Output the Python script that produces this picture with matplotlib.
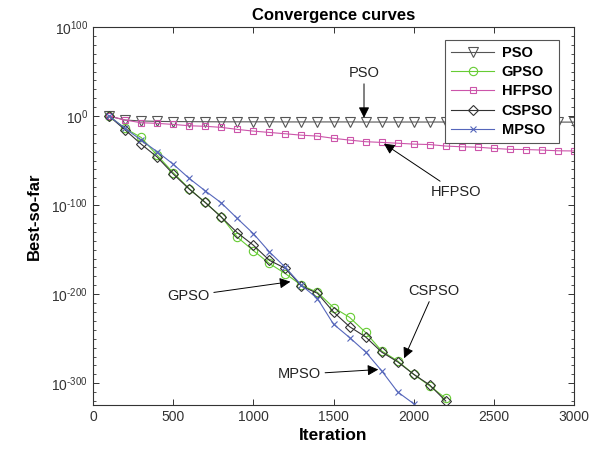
import matplotlib
matplotlib.use("Agg")
import matplotlib.pyplot as plt
from matplotlib.ticker import FixedLocator, MultipleLocator, FuncFormatter

plt.rcParams['font.family'] = ['Liberation Sans', 'DejaVu Sans']
plt.rcParams['mathtext.fontset'] = 'custom'
plt.rcParams['mathtext.rm'] = 'Liberation Sans'
plt.rcParams['mathtext.it'] = 'Liberation Sans:italic'
plt.rcParams['mathtext.bf'] = 'Liberation Sans:bold'

# iteration 100, 200, ... 3000
iters = list(range(100, 3100, 100))

# best-so-far values as log10 (the axis shows 10^x)
pso = [0, -4.5, -5.5, -6.0, -6.2, -6.3, -6.4, -6.5, -6.5, -6.5,
       -6.5, -6.6, -6.6, -6.6, -6.6, -6.6, -6.7, -6.7, -6.7, -6.7,
       -6.7, -6.7, -6.8, -6.8, -6.8, -6.8, -6.8, -6.8, -6.8, -6.8]
gpso = [0, -13.8, -24, -44, -63.5, -81.5, -97, -113, -136, -151,
        -165.5, -177, -190, -198, -215, -226, -243, -263.7, -275, -290,
        -303, -317]
hfpso = [0, -4.5, -7.5, -8.2, -9.4, -10.9, -11.5, -12.7, -15.0, -16.9,
         -18.4, -19.9, -21.5, -22.5, -25.0, -27.0, -28.8, -29.6, -30.5, -31.5,
         -32.0, -33.7, -34.5, -35.0, -36.3, -37.4, -37.6, -38.2, -39.0, -39.2]
cspso = [0, -15.5, -31.5, -46, -65, -82, -97, -113.5, -131, -145,
         -162, -171, -191, -199, -220, -236.5, -248, -265, -276, -290,
         -302, -320]
mpso = [0, -13.8, -27, -40, -54, -70, -84, -97.5, -115, -132,
        -152.5, -170, -190, -205, -233.7, -248.7, -264.8, -286, -309.8, -323]


def exp_label(v, pos):
    n = int(round(v))
    if n < 0:
        return r'$10^{\text{-}%d}$' % (-n)
    return r'$10^{%d}$' % n


fig = plt.figure(figsize=(5.98, 4.71), dpi=100)
ax = fig.add_axes([0.1555, 0.140, 0.8045, 0.8027])

ax.plot(iters[:len(pso)], pso, color='#555555', lw=0.8, marker='v',
        ms=7, mfc='none', mec='#555555', mew=0.8, label='PSO')
ax.plot(iters[:len(gpso)], gpso, color='#66cc33', lw=0.8, marker='o',
        ms=6, mfc='none', mec='#66cc33', mew=0.8, label='GPSO')
ax.plot(iters[:len(hfpso)], hfpso, color='#cc55aa', lw=0.8, marker='s',
        ms=4, mfc='none', mec='#cc55aa', mew=0.8, label='HFPSO')
ax.plot(iters[:len(cspso)], cspso, color='#333333', lw=0.8, marker='D',
        ms=5.5, mfc='none', mec='#333333', mew=0.8, label='CSPSO')
ax.plot(iters[:len(mpso)], mpso, color='#5566bb', lw=0.8, marker='x',
        ms=4.5, mec='#5566bb', mew=0.8, label='MPSO')

# arrows with names
arrow = dict(arrowstyle='-|>', color='k', lw=0.7, mutation_scale=16, shrinkA=1, shrinkB=0)
txt = dict(ha='center', va='center', fontsize=10.5, color='#222222')
ax.annotate('PSO', xy=(1690, -2), xytext=(1690, 48.7), arrowprops=arrow, **txt)
ax.annotate('HFPSO', xy=(1814, -31), xytext=(2263, -85), arrowprops=arrow, **txt)
ax.annotate('GPSO', xy=(1231, -186), xytext=(596, -202), arrowprops=arrow, **txt)
ax.annotate('CSPSO', xy=(1940, -272), xytext=(2127, -196), arrowprops=arrow, **txt)
ax.annotate('MPSO', xy=(1779, -284.6), xytext=(1287, -290), arrowprops=arrow, **txt)

ax.set_xlim(0, 3000)
ax.set_ylim(-324.5, 100)
ax.xaxis.set_major_locator(MultipleLocator(500))
ax.yaxis.set_major_locator(FixedLocator([-300, -200, -100, 0, 100]))
ax.yaxis.set_minor_locator(MultipleLocator(10))
ax.yaxis.set_major_formatter(FuncFormatter(exp_label))

ax.tick_params(which='both', direction='in', top=True, right=True,
               colors='#333333', labelsize=10)
ax.tick_params(which='major', length=4, width=0.7)
ax.tick_params(which='minor', length=2.5, width=0.6)
for s in ax.spines.values():
    s.set_color('#333333')
    s.set_linewidth(0.8)

ax.set_title('Convergence curves', fontsize=12, fontweight='bold', pad=5)
ax.set_xlabel('Iteration', fontsize=12.5, fontweight='bold', labelpad=3)
ax.set_ylabel('Best-so-far', fontsize=12, fontweight='bold', labelpad=7)

leg = ax.legend(loc='upper right', bbox_to_anchor=(0.969, 0.966), borderaxespad=0,
                prop={'weight': 'bold', 'size': 10.5}, fancybox=False, framealpha=1,
                edgecolor='#555555', handlelength=3, handletextpad=0.5,
                labelspacing=0.36, borderpad=0.42)
leg.get_frame().set_linewidth(0.8)

fig.savefig('out.png', dpi=100)
